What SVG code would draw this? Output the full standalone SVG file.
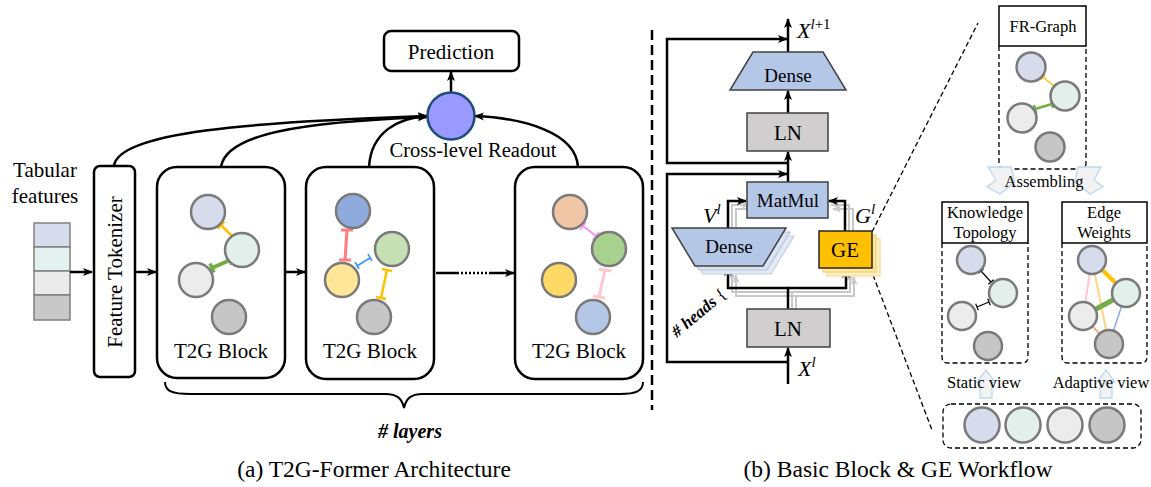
<svg xmlns="http://www.w3.org/2000/svg" width="1151" height="487" viewBox="0 0 1151 487">
<style>
text { font-family: "Liberation Serif", "Times New Roman", serif; fill: #000; }
.box { fill: #fff; stroke: #000; stroke-width: 2.5; }
.ln { fill: #d0cece; stroke: #404040; stroke-width: 1.5; }
.bl { fill: #b4c7e7; stroke: #404040; stroke-width: 1.5; }
.wire { fill: none; stroke: #000; stroke-width: 2.5; }
.sh { fill: none; stroke: #c8c8c8; stroke-width: 2; }
.nd { stroke: #7a7a7a; stroke-width: 2.5; }
.dash { fill: none; stroke: #000; stroke-width: 1.3; stroke-dasharray: 5 3; }
.c1 { fill: #d6dcec; } .c2 { fill: #e2efea; } .c3 { fill: #ececec; } .c4 { fill: #c6c6c6; }
.fat { fill: #f2f2f2; stroke: #bdd7ee; stroke-width: 1.3; }
.t21 { font-size: 21px; text-anchor: middle; }
.t17 { font-size: 16.5px; text-anchor: middle; }
.m { font-style: italic; font-size: 22px; }
</style>
<defs>
<marker id="ah" viewBox="0 0 10 10" refX="9" refY="5" markerWidth="10" markerHeight="10" markerUnits="userSpaceOnUse" orient="auto"><path d="M0,1 L10,5 L0,9 L2.5,5 z" fill="#000"/></marker>
<marker id="ahg" viewBox="0 0 10 10" refX="9" refY="5" markerWidth="9" markerHeight="9" markerUnits="userSpaceOnUse" orient="auto"><path d="M0,1 L10,5 L0,9 L2.5,5 z" fill="#c8c8c8"/></marker>
</defs>

<!-- ===== (a) ===== -->
<g id="tabular">
<text x="45" y="177" class="t21">Tabular</text>
<text x="45" y="203" class="t21">features</text>
<rect x="34" y="223" width="36" height="24" fill="#d6dcec" stroke="#808080" stroke-width="1.5"/>
<rect x="34" y="247" width="36" height="24" fill="#e3f2ee" stroke="#808080" stroke-width="1.5"/>
<rect x="34" y="271" width="36" height="24" fill="#ebebeb" stroke="#808080" stroke-width="1.5"/>
<rect x="34" y="295" width="36" height="25" fill="#c8c8c8" stroke="#808080" stroke-width="1.5"/>
</g>

<g id="connectors-a">
<line x1="70" y1="272" x2="92" y2="272" class="wire" marker-end="url(#ah)"/>
<line x1="135" y1="272" x2="156" y2="272" class="wire" marker-end="url(#ah)"/>
<line x1="285" y1="272" x2="305" y2="272" class="wire" marker-end="url(#ah)"/>
<line x1="436" y1="273" x2="457" y2="273" class="wire"/>
<line x1="457" y1="273" x2="490" y2="273" class="wire" stroke-dasharray="2 2"/>
<line x1="490" y1="273" x2="514" y2="273" class="wire" marker-end="url(#ah)"/>
<path class="wire" d="M114,166 C118,132 250,122 427,116" marker-end="url(#ah)"/>
<path class="wire" d="M221,167 C226,134 300,122 427,117" marker-end="url(#ah)"/>
<path class="wire" d="M369,167 C371,132 398,118 427,116" marker-end="url(#ah)"/>
<path class="wire" d="M578,167 C576,132 522,118 475,116" marker-end="url(#ah)"/>
<line x1="451" y1="93" x2="451" y2="72" class="wire" marker-end="url(#ah)"/>
<path d="M165,382 C165,391 172,394 190,394 L385,394 C398,394 402,399 404,408 C406,399 410,394 423,394 L620,394 C636,394 643,391 643,382" fill="none" stroke="#000" stroke-width="2"/>
</g>

<g id="feature-tokenizer">
<rect x="94" y="166" width="41" height="211" rx="6" class="box"/>
<text class="t21" transform="translate(122,272) rotate(-90)">Feature Tokenizer</text>
</g>

<g id="block1">
<rect x="157" y="167" width="128" height="211" rx="20" class="box"/>
<line x1="221" y1="225" x2="233" y2="237" stroke="#ffc000" stroke-width="2.5"/>
<line x1="224.4" y1="221.4" x2="217.6" y2="228.6" stroke="#ffc000" stroke-width="2.5"/>
<line x1="236.4" y1="233.4" x2="229.6" y2="240.6" stroke="#ffc000" stroke-width="2.5"/>
<line x1="212" y1="268" x2="230" y2="260" stroke="#70ad47" stroke-width="4"/>
<line x1="214" y1="272.5" x2="210" y2="263.5" stroke="#70ad47" stroke-width="3.5"/>
<line x1="232" y1="264.5" x2="228" y2="255.5" stroke="#70ad47" stroke-width="3.5"/>
<circle cx="208" cy="212" r="17" class="nd c1"/>
<circle cx="242" cy="250" r="17" class="nd c2"/>
<circle cx="196" cy="280" r="17" class="nd c3"/>
<circle cx="229" cy="317" r="17" class="nd c4"/>
<text x="221" y="358" class="t21">T2G Block</text>
</g>

<g id="block2">
<rect x="306" y="167" width="128" height="212" rx="20" class="box"/>
<line x1="347" y1="230" x2="345" y2="260" stroke="#ff7c80" stroke-width="3"/>
<line x1="341" y1="230" x2="353" y2="230" stroke="#ff7c80" stroke-width="3"/>
<line x1="339" y1="260" x2="351" y2="260" stroke="#ff7c80" stroke-width="3"/>
<line x1="357" y1="266" x2="370" y2="258" stroke="#3399ff" stroke-width="1.6"/>
<line x1="355" y1="262" x2="359" y2="269" stroke="#3399ff" stroke-width="1.6"/>
<line x1="368" y1="254" x2="372" y2="261" stroke="#3399ff" stroke-width="1.6"/>
<line x1="387" y1="270" x2="381" y2="298" stroke="#ffc000" stroke-width="2.5"/>
<line x1="382" y1="269" x2="392" y2="271" stroke="#ffc000" stroke-width="2.5"/>
<line x1="376" y1="297" x2="386" y2="299" stroke="#ffc000" stroke-width="2.5"/>
<circle cx="353" cy="211" r="17" class="nd" fill="#8faadc"/>
<circle cx="392" cy="249" r="17" class="nd" fill="#c5e0b4"/>
<circle cx="342" cy="280" r="17" class="nd" fill="#ffe699"/>
<circle cx="374" cy="317" r="17" class="nd c4"/>
<text x="370" y="358" class="t21">T2G Block</text>
</g>

<g id="block3">
<rect x="515" y="167" width="128" height="212" rx="20" class="box"/>
<line x1="583" y1="226" x2="596" y2="236" stroke="#f08cf0" stroke-width="1.6"/>
<line x1="586" y1="222" x2="580" y2="230" stroke="#f08cf0" stroke-width="1.6"/>
<line x1="599" y1="232" x2="593" y2="240" stroke="#f08cf0" stroke-width="1.6"/>
<line x1="605" y1="270" x2="599" y2="297" stroke="#ffc7ce" stroke-width="3"/>
<line x1="599" y1="269" x2="611" y2="271" stroke="#ffc7ce" stroke-width="3"/>
<line x1="593" y1="296" x2="605" y2="298" stroke="#ffc7ce" stroke-width="3"/>
<circle cx="570" cy="212" r="17" class="nd" fill="#f0c6a6"/>
<circle cx="609" cy="249" r="17" class="nd" fill="#a9d18e"/>
<circle cx="559" cy="280" r="17" class="nd" fill="#ffd966"/>
<circle cx="593" cy="317" r="17" class="nd" fill="#b4c7e7"/>
<text x="579" y="358" class="t21">T2G Block</text>
</g>

<g id="readout">
<circle cx="451" cy="116" r="23.5" fill="#9999ff" stroke="#1f4e79" stroke-width="2.5"/>
<text x="473" y="157" font-size="20.5" text-anchor="middle">Cross-level Readout</text>
</g>

<g id="prediction">
<rect x="384" y="31" width="135" height="40" rx="7" class="box"/>
<text x="451" y="59" class="t21">Prediction</text>
</g>

<text x="410" y="438" font-size="20" font-weight="bold" font-style="italic" text-anchor="middle"># layers</text>
<text x="374" y="477" font-size="23.5" text-anchor="middle">(a) T2G-Former Architecture</text>

<line x1="652" y1="30" x2="652" y2="410" stroke="#000" stroke-width="2.5" stroke-dasharray="10 5"/>

<!-- ===== (b) ===== -->
<g id="connectors-b">
<path class="wire" d="M788,163 H667 V39 H787" marker-end="url(#ah)"/>
<path class="wire" d="M788,362 H667 V174 H787" marker-end="url(#ah)"/>
<line x1="788" y1="384" x2="788" y2="348" class="wire" marker-end="url(#ah)"/>
<line x1="788" y1="182" x2="788" y2="152" class="wire" marker-end="url(#ah)"/>
<line x1="788" y1="113" x2="788" y2="91" class="wire" marker-end="url(#ah)"/>
<line x1="788" y1="52" x2="788" y2="19" class="wire" marker-end="url(#ah)"/>
<path class="sh" d="M796,309 V296 H736 V275" marker-end="url(#ahg)"/>
<path class="sh" d="M796,296 H854 V277" marker-end="url(#ahg)"/>
<path class="sh" d="M792,309 V292 H732 V271" marker-end="url(#ahg)"/>
<path class="sh" d="M792,292 H850 V273" marker-end="url(#ahg)"/>
<path class="sh" d="M736,236 V209 H754" marker-end="url(#ahg)"/>
<path class="sh" d="M732,232 V205 H750" marker-end="url(#ahg)"/>
<path class="sh" d="M853,239 V209 H833" marker-end="url(#ahg)"/>
<path class="sh" d="M849,235 V205 H831" marker-end="url(#ahg)"/>
<path class="wire" d="M788,309 V288 H728 V267" marker-end="url(#ah)"/>
<path class="wire" d="M788,288 H846 V269" marker-end="url(#ah)"/>
<path class="wire" d="M728,228 V201 H746" marker-end="url(#ah)"/>
<path class="wire" d="M845,231 V201 H829" marker-end="url(#ah)"/>
<line x1="872" y1="232" x2="978" y2="23" stroke="#000" stroke-width="1.3" stroke-dasharray="5 3"/>
<line x1="873" y1="275" x2="932" y2="430" stroke="#000" stroke-width="1.3" stroke-dasharray="5 3"/>
</g>

<g id="dense-top">
<polygon points="753,52 823,52 846,90 730,90" class="bl"/>
<text x="788" y="82" font-size="19" text-anchor="middle">Dense</text>
</g>
<g id="ln-top">
<rect x="747" y="113" width="81" height="38" class="ln"/>
<text x="788" y="140" class="t21">LN</text>
</g>
<g id="matmul">
<rect x="747" y="182" width="81" height="36" class="bl"/>
<text x="788" y="207" font-size="19" text-anchor="middle">MatMul</text>
</g>
<g id="dense-v">
<polygon points="680,236 794,236 771,274 703,274" fill="#e4eaf5" stroke="#c5cedd" stroke-width="1.2"/>
<polygon points="676,232 790,232 767,270 699,270" fill="#dae3f3" stroke="#b8c4d8" stroke-width="1.2"/>
<polygon points="672,228 786,228 763,266 695,266" class="bl"/>
<text x="729" y="253" font-size="19" text-anchor="middle">Dense</text>
</g>
<g id="ge">
<rect x="827" y="239" width="53" height="37" fill="#fff0c4" stroke="#f5dc9a" stroke-width="1.2"/>
<rect x="823" y="235" width="53" height="37" fill="#ffe699" stroke="#f0d080" stroke-width="1.2"/>
<rect x="819" y="231" width="53" height="37" fill="#ffc000" stroke="#262626" stroke-width="1.5"/>
<text x="845" y="257" class="t21">GE</text>
</g>
<g id="ln-bottom">
<rect x="747" y="309" width="83" height="38" class="ln"/>
<text x="788" y="336" class="t21">LN</text>
</g>

<g id="math-labels">
<text x="797" y="38" class="m">X<tspan font-size="15" dy="-9">l</tspan><tspan font-size="15" font-style="normal">+1</tspan></text>
<text x="703" y="223" class="m">V<tspan font-size="15" dy="-9">l</tspan></text>
<text x="855" y="223" class="m">G<tspan font-size="15" dy="-9">l</tspan></text>
<text x="798" y="376" class="m">X<tspan font-size="15" dy="-9">l</tspan></text>
<text transform="translate(677,338) rotate(-40)" font-size="17" font-weight="bold" font-style="italic"># heads <tspan font-weight="normal" font-style="normal">{</tspan></text>
</g>

<g id="fr-graph">
<rect x="999" y="6" width="87" height="40" fill="#fff" stroke="#000" stroke-width="1.5"/>
<text x="1043" y="32" class="t17">FR-Graph</text>
<path class="dash" d="M999,46 V163 Q999,169 1005,169 H1080 Q1086,169 1086,163 V46"/>
<g stroke="#ffc000" stroke-width="1.5">
<line x1="1043" y1="77" x2="1054" y2="86"/>
<line x1="1045.2" y1="74.3" x2="1040.8" y2="79.7"/>
<line x1="1056.2" y1="83.3" x2="1051.8" y2="88.7"/>
</g>
<g stroke="#70ad47" stroke-width="2.5">
<line x1="1035" y1="109" x2="1052" y2="104"/>
<line x1="1036.1" y1="112.8" x2="1033.9" y2="105.2"/>
<line x1="1053.1" y1="107.8" x2="1050.9" y2="100.2"/>
</g>
<circle cx="1031" cy="67" r="14.5" class="nd c1"/>
<circle cx="1065" cy="96" r="14.5" class="nd c2"/>
<circle cx="1022" cy="118" r="14.5" class="nd c3"/>
<circle cx="1050" cy="147" r="14.5" class="nd c4"/>
</g>

<g id="assembling">
<polygon points="988,167 1011,167 1015,182 1000,194 987,187 996,180" class="fat"/>
<polygon points="1101,167 1078,167 1075,182 1090,194 1103,187 1094,180" class="fat"/>
<text x="1044" y="187" class="t17">Assembling</text>
</g>

<g id="knowledge-topology">
<rect x="942" y="202" width="86" height="41" fill="#fff" stroke="#000" stroke-width="1.5"/>
<text x="985" y="218" class="t17">Knowledge</text>
<text x="985" y="238" class="t17">Topology</text>
<path class="dash" d="M942,243 V357 Q942,363 948,363 H1022 Q1028,363 1028,357 V243"/>
<g stroke="#000" stroke-width="1.2">
<line x1="981" y1="271" x2="991" y2="282"/>
<line x1="983.6" y1="268.7" x2="978.4" y2="273.3"/>
<line x1="993.6" y1="279.7" x2="988.4" y2="284.3"/>
<line x1="977" y1="307" x2="989" y2="302"/>
<line x1="978.3" y1="310.2" x2="975.7" y2="303.8"/>
<line x1="990.3" y1="305.2" x2="987.7" y2="298.8"/>
</g>
<circle cx="971" cy="260" r="14" class="nd c1"/>
<circle cx="1003" cy="293" r="14" class="nd c2"/>
<circle cx="962" cy="316" r="14" class="nd c3"/>
<circle cx="988" cy="346" r="14" class="nd c4"/>
</g>

<g id="edge-weights">
<rect x="1062" y="202" width="85" height="41" fill="#fff" stroke="#000" stroke-width="1.5"/>
<text x="1104" y="218" class="t17">Edge</text>
<text x="1104" y="238" class="t17">Weights</text>
<path class="dash" d="M1062,243 V357 Q1062,363 1068,363 H1141 Q1147,363 1147,357 V243"/>
<line x1="1092" y1="260" x2="1083" y2="316" stroke="#ffc7ce" stroke-width="2"/>
<line x1="1092" y1="260" x2="1109" y2="344" stroke="#ffd580" stroke-width="2"/>
<line x1="1126" y1="293" x2="1109" y2="344" stroke="#8faadc" stroke-width="1.5"/>
<line x1="1083" y1="316" x2="1109" y2="344" stroke="#f4b183" stroke-width="2"/>
<line x1="1092" y1="260" x2="1126" y2="293" stroke="#ffc000" stroke-width="4"/>
<line x1="1083" y1="316" x2="1126" y2="293" stroke="#70ad47" stroke-width="5"/>
<circle cx="1092" cy="260" r="14" class="nd c1"/>
<circle cx="1126" cy="293" r="14" class="nd c2"/>
<circle cx="1083" cy="316" r="14" class="nd c3"/>
<circle cx="1109" cy="344" r="14" class="nd c4"/>
</g>

<g id="views">
<polygon points="977,382 986,370 995,382 992,382 992,398 980,398 980,382" class="fat"/>
<polygon points="1097,382 1106,370 1115,382 1112,382 1112,398 1100,398 1100,382" class="fat"/>
<text x="984" y="388" class="t17">Static view</text>
<text x="1101" y="388" class="t17">Adaptive view</text>
</g>

<g id="features-row">
<rect x="943" y="404" width="198" height="44" rx="8" class="dash"/>
<circle cx="982" cy="425" r="17.5" class="nd c1"/>
<circle cx="1023" cy="425" r="17.5" class="nd c2"/>
<circle cx="1065" cy="425" r="17.5" class="nd c3"/>
<circle cx="1107" cy="425" r="17.5" class="nd c4"/>
</g>

<text x="898" y="477" font-size="23.5" text-anchor="middle">(b) Basic Block &amp; GE Workflow</text>
</svg>
